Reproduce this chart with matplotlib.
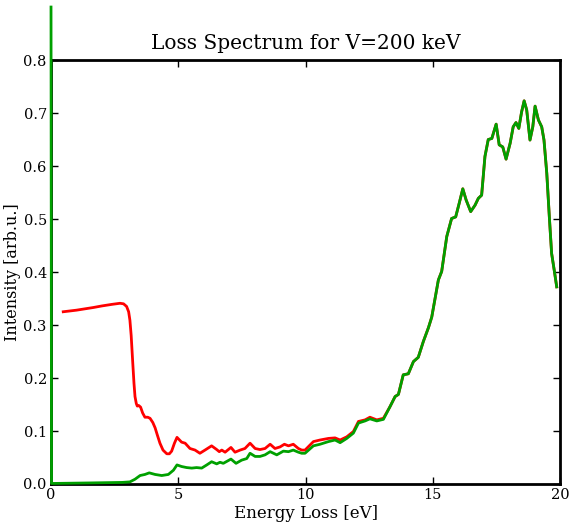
import matplotlib
matplotlib.use("Agg")
import matplotlib.pyplot as plt

# Red curve (full loss spectrum)
red_E = [0.48, 1.0, 1.66, 2.0, 2.4, 2.71, 2.85, 2.97, 3.05, 3.10, 3.15, 3.21, 3.26, 3.30, 3.35, 3.39,
         3.45, 3.52, 3.60, 3.69, 3.80, 3.89, 4.00, 4.09, 4.18, 4.28, 4.40, 4.55, 4.65, 4.74, 4.85,
         4.95, 5.13, 5.27, 5.46, 5.66, 5.85, 6.05, 6.31, 6.51, 6.61, 6.71, 6.84, 7.07, 7.23, 7.43,
         7.62, 7.82, 8.02, 8.21, 8.41, 8.61, 8.80, 9.00, 9.17, 9.33, 9.52, 9.72, 9.85, 9.98, 10.31,
         10.57, 10.90, 11.16, 11.36, 11.62, 11.88, 12.08, 12.34, 12.53, 12.80, 13.06, 13.32, 13.52,
         13.65, 13.84, 14.04, 14.24, 14.43, 14.63, 14.83, 14.96, 15.09, 15.22, 15.35, 15.55, 15.74,
         15.90, 16.04, 16.18, 16.31, 16.49, 16.66, 16.79, 16.92, 17.05, 17.18, 17.32, 17.49, 17.61,
         17.75, 17.88, 18.04, 18.16, 18.27, 18.38, 18.49, 18.59, 18.69, 18.82, 18.93, 19.02, 19.15,
         19.28, 19.37, 19.48, 19.58, 19.67, 19.78, 19.87]
red_I = [0.325, 0.328, 0.333, 0.336, 0.339, 0.341, 0.340, 0.335, 0.325, 0.309, 0.280, 0.230, 0.190,
         0.165, 0.152, 0.147, 0.148, 0.145, 0.134, 0.126, 0.126, 0.124, 0.116, 0.106, 0.092, 0.077,
         0.064, 0.057, 0.057, 0.062, 0.077, 0.088, 0.079, 0.077, 0.067, 0.064, 0.058, 0.064, 0.072,
         0.065, 0.061, 0.064, 0.060, 0.069, 0.060, 0.064, 0.067, 0.077, 0.067, 0.065, 0.067, 0.075,
         0.067, 0.070, 0.075, 0.072, 0.075, 0.067, 0.064, 0.064, 0.080, 0.083, 0.086, 0.087, 0.083,
         0.089, 0.099, 0.118, 0.121, 0.126, 0.121, 0.124, 0.146, 0.165, 0.169, 0.206, 0.208, 0.231,
         0.239, 0.269, 0.295, 0.315, 0.350, 0.385, 0.401, 0.467, 0.501, 0.504, 0.530, 0.557, 0.536,
         0.514, 0.526, 0.539, 0.545, 0.618, 0.650, 0.652, 0.679, 0.640, 0.636, 0.613, 0.643, 0.674,
         0.682, 0.671, 0.702, 0.723, 0.706, 0.649, 0.674, 0.713, 0.687, 0.674, 0.649, 0.586, 0.504,
         0.435, 0.401, 0.372]

# Green curve
green_E = [0.0, 0.02, 1.5, 2.8, 3.10, 3.30, 3.50, 3.69, 3.86, 4.09, 4.35, 4.61, 4.81, 4.95, 5.13, 5.33,
           5.53, 5.72, 5.92, 6.12, 6.31, 6.51, 6.64, 6.77, 7.07, 7.27, 7.49, 7.69, 7.82, 8.02, 8.21,
           8.41, 8.61, 8.87, 9.13, 9.33, 9.52, 9.72, 9.85, 9.98, 10.31, 10.57, 10.90, 11.16, 11.36,
           11.62, 11.88, 12.08, 12.34, 12.53, 12.80, 13.06, 13.32, 13.52, 13.65, 13.84, 14.04, 14.24,
           14.43, 14.63, 14.83, 14.96, 15.09, 15.22, 15.35, 15.55, 15.74, 15.90, 16.04, 16.18, 16.31,
           16.49, 16.66, 16.79, 16.92, 17.05, 17.18, 17.32, 17.49, 17.61, 17.75, 17.88, 18.04, 18.16,
           18.27, 18.38, 18.49, 18.59, 18.69, 18.82, 18.93, 19.02, 19.15, 19.28, 19.37, 19.48, 19.58,
           19.67, 19.78, 19.87]
green_I = [0.90, 0.001, 0.002, 0.003, 0.004, 0.009, 0.016, 0.018, 0.021, 0.018, 0.016, 0.018, 0.026,
           0.036, 0.033, 0.031, 0.030, 0.031, 0.030, 0.036, 0.042, 0.038, 0.041, 0.039, 0.047, 0.039,
           0.045, 0.048, 0.058, 0.052, 0.052, 0.055, 0.061, 0.055, 0.062, 0.061, 0.064, 0.060, 0.058,
           0.058, 0.072, 0.075, 0.080, 0.083, 0.078, 0.086, 0.096, 0.115, 0.119, 0.123, 0.119, 0.122,
           0.146, 0.165, 0.169, 0.206, 0.208, 0.231, 0.239, 0.269, 0.295, 0.315, 0.350, 0.385, 0.401,
           0.467, 0.501, 0.504, 0.530, 0.557, 0.536, 0.514, 0.526, 0.539, 0.545, 0.618, 0.650, 0.652,
           0.679, 0.640, 0.636, 0.613, 0.643, 0.674, 0.682, 0.671, 0.702, 0.723, 0.706, 0.649, 0.674,
           0.713, 0.687, 0.674, 0.649, 0.586, 0.504, 0.435, 0.401, 0.372]

x_ticks = [0, 5, 10, 15, 20]
y_ticks = [0.0, 0.1, 0.2, 0.3, 0.4, 0.5, 0.6, 0.7, 0.8]

plt.rcParams['font.family'] = ['DejaVu Serif']
fig = plt.figure(figsize=(5.7, 5.22), dpi=100)
ax = fig.add_axes([0.0895, 0.0728, 0.893, 0.8122])

ax.plot(red_E, red_I, color='#ff0000', lw=2.0, zorder=3, solid_joinstyle='round')
ax.plot(green_E, green_I, color='#00a000', lw=2.0, zorder=4, clip_on=False, solid_joinstyle='round')

ax.set_xlim(0, 20)
ax.set_ylim(0, 0.8)
ax.set_xticks(x_ticks)
ax.set_xticklabels([str(t) for t in x_ticks])
ax.set_yticks(y_ticks)
ax.set_yticklabels(['%.1f' % t for t in y_ticks])
ax.tick_params(direction='in', length=5, width=1, top=True, right=True, labelsize=10.5, pad=3)
for s in ax.spines.values():
    s.set_linewidth(2.0)
    s.set_zorder(2)

ax.set_title('Loss Spectrum for V=200 keV', fontsize=14.5, pad=8)
ax.set_xlabel('Energy Loss [eV]', fontsize=12, labelpad=2)
ax.set_ylabel('Intensity [arb.u.]', fontsize=11.5, labelpad=2)

fig.savefig('out.png', dpi=100)
